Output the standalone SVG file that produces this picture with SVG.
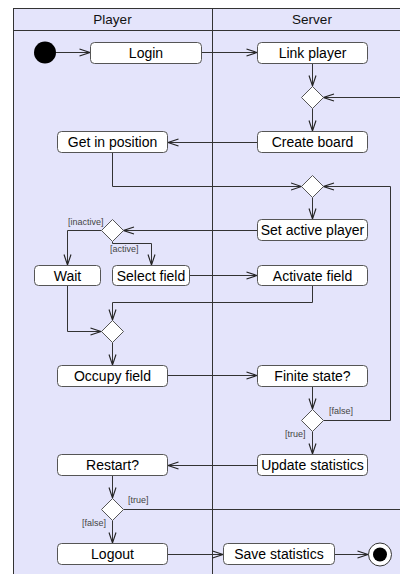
<svg xmlns="http://www.w3.org/2000/svg" width="400" height="574" viewBox="0 0 400 574">
  <style>
    .lane { fill: #e4e4fb; stroke: #333; stroke-width: 1; }
    .hdr { font-family: "Liberation Sans", Arial, sans-serif; font-size: 13.5px; fill: #111; text-anchor: middle; }
    .act rect { fill: #fff; stroke: #555; stroke-width: 1; }
    .act text { font-family: "Liberation Sans", Arial, sans-serif; font-size: 14px; fill: #000; text-anchor: middle; }
    .dec polygon { fill: #fff; stroke: #555; stroke-width: 1; }
    .guard { font-family: "Liberation Sans", Arial, sans-serif; font-size: 9px; fill: #444; }
    .edge { fill: none; stroke: #333; stroke-width: 1; }
  </style>
  <defs>
    <marker id="open" viewBox="0 0 12 10" refX="11" refY="5" markerWidth="12" markerHeight="10" markerUnits="userSpaceOnUse" orient="auto">
      <path d="M0.5,1.5 L11,5 L0.5,8.5" fill="none" stroke="#222" stroke-width="1.1"/>
    </marker>
  </defs>

  <!-- swimlane frame -->
  <g id="lanes">
    <rect class="lane" x="13.5" y="8.5" width="400" height="580"/>
    <line x1="13.5" y1="30.5" x2="400" y2="30.5" stroke="#333"/>
    <line x1="212.5" y1="8.5" x2="212.5" y2="574" stroke="#333"/>
    <text class="hdr" x="112.5" y="24">Player</text>
    <text class="hdr" x="312" y="24">Server</text>
  </g>

  <!-- connectors -->
  <g id="connectors" class="edge" marker-end="url(#open)">
    <path d="M56,52.5 H90"/>
    <path d="M202,52.5 H257"/>
    <path d="M312.5,63 V86"/>
    <path d="M400,97.5 H323.5"/>
    <path d="M312.5,108.5 V131"/>
    <path d="M257,142.5 H168"/>
    <path d="M112.5,153 V186.5 H301.5"/>
    <path d="M390.5,420.5 V186.5 H323.5"/>
    <path d="M312.5,197.5 V219"/>
    <path d="M257,230.5 H123.5"/>
    <path d="M101.5,230.5 H67.5 V265"/>
    <path d="M112.5,241.5 V243.5 H151.5 V265"/>
    <path d="M190,275.5 H257"/>
    <path d="M312.5,286 V302.5 H112.5 V320"/>
    <path d="M67.5,286 V331.5 H101"/>
    <path d="M112.5,342.5 V365"/>
    <path d="M168,375.5 H257"/>
    <path d="M312.5,387 V409"/>
    <path d="M323.5,420.5 H390.5" marker-end="none"/>
    <path d="M312.5,431.5 V454"/>
    <path d="M257,465.5 H168"/>
    <path d="M112.5,476 V498"/>
    <path d="M123.5,509.5 H400" marker-end="none"/>
    <path d="M112.5,520.5 V543"/>
    <path d="M168,554.5 H223"/>
    <path d="M335,554.5 H368"/>
  </g>

  <!-- guard labels -->
  <g id="guards">
    <text class="guard" x="68" y="225">[inactive]</text>
    <text class="guard" x="110" y="252">[active]</text>
    <text class="guard" x="329" y="414">[false]</text>
    <text class="guard" x="285" y="437">[true]</text>
    <text class="guard" x="128" y="503">[true]</text>
    <text class="guard" x="82" y="526">[false]</text>
  </g>

  <!-- initial and final nodes -->
  <g id="start"><circle cx="45" cy="52.5" r="11" fill="#000"/></g>
  <g id="end">
    <circle cx="380" cy="554.5" r="11.5" fill="#fff" stroke="#333"/>
    <circle cx="380" cy="554.5" r="7" fill="#000"/>
  </g>

  <!-- decision nodes -->
  <g id="merge-link" class="dec"><polygon points="312.5,86.5 323.5,97.5 312.5,108.5 301.5,97.5"/></g>
  <g id="merge-turn" class="dec"><polygon points="312.5,175.5 323.5,186.5 312.5,197.5 301.5,186.5"/></g>
  <g id="decide-active" class="dec"><polygon points="112.5,219.5 123.5,230.5 112.5,241.5 101.5,230.5"/></g>
  <g id="merge-move" class="dec"><polygon points="112.5,320.5 123.5,331.5 112.5,342.5 101.5,331.5"/></g>
  <g id="decide-finite" class="dec"><polygon points="312.5,409.5 323.5,420.5 312.5,431.5 301.5,420.5"/></g>
  <g id="decide-restart" class="dec"><polygon points="112.5,498.5 123.5,509.5 112.5,520.5 101.5,509.5"/></g>

  <!-- actions -->
  <g id="login" class="act"><rect x="90.5" y="42.5" width="111" height="21" rx="4"/><text x="146" y="58">Login</text></g>
  <g id="link-player" class="act"><rect x="257.5" y="42.5" width="110" height="21" rx="4"/><text x="312.5" y="58">Link player</text></g>
  <g id="get-in-position" class="act"><rect x="57.5" y="131.5" width="110" height="21" rx="4"/><text x="112.5" y="147">Get in position</text></g>
  <g id="create-board" class="act"><rect x="257.5" y="131.5" width="110" height="21" rx="4"/><text x="312.5" y="147">Create board</text></g>
  <g id="set-active-player" class="act"><rect x="257.5" y="219.5" width="110" height="21" rx="4"/><text x="312.5" y="235">Set active player</text></g>
  <g id="wait" class="act"><rect x="34.5" y="265.5" width="66" height="20" rx="4"/><text x="67.5" y="280.5">Wait</text></g>
  <g id="select-field" class="act"><rect x="112.5" y="265.5" width="77" height="20" rx="4"/><text x="151" y="280.5">Select field</text></g>
  <g id="activate-field" class="act"><rect x="257.5" y="265.5" width="110" height="20" rx="4"/><text x="312.5" y="280.5">Activate field</text></g>
  <g id="occupy-field" class="act"><rect x="57.5" y="365.5" width="110" height="21" rx="4"/><text x="112.5" y="381">Occupy field</text></g>
  <g id="finite-state" class="act"><rect x="257.5" y="365.5" width="110" height="21" rx="4"/><text x="312.5" y="381">Finite state?</text></g>
  <g id="update-statistics" class="act"><rect x="257.5" y="454.5" width="110" height="21" rx="4"/><text x="312.5" y="470">Update statistics</text></g>
  <g id="restart" class="act"><rect x="57.5" y="454.5" width="110" height="21" rx="4"/><text x="112.5" y="470">Restart?</text></g>
  <g id="logout" class="act"><rect x="57.5" y="543.5" width="110" height="21" rx="4"/><text x="112.5" y="559">Logout</text></g>
  <g id="save-statistics" class="act"><rect x="223.5" y="543.5" width="111" height="21" rx="4"/><text x="279" y="559">Save statistics</text></g>
</svg>
